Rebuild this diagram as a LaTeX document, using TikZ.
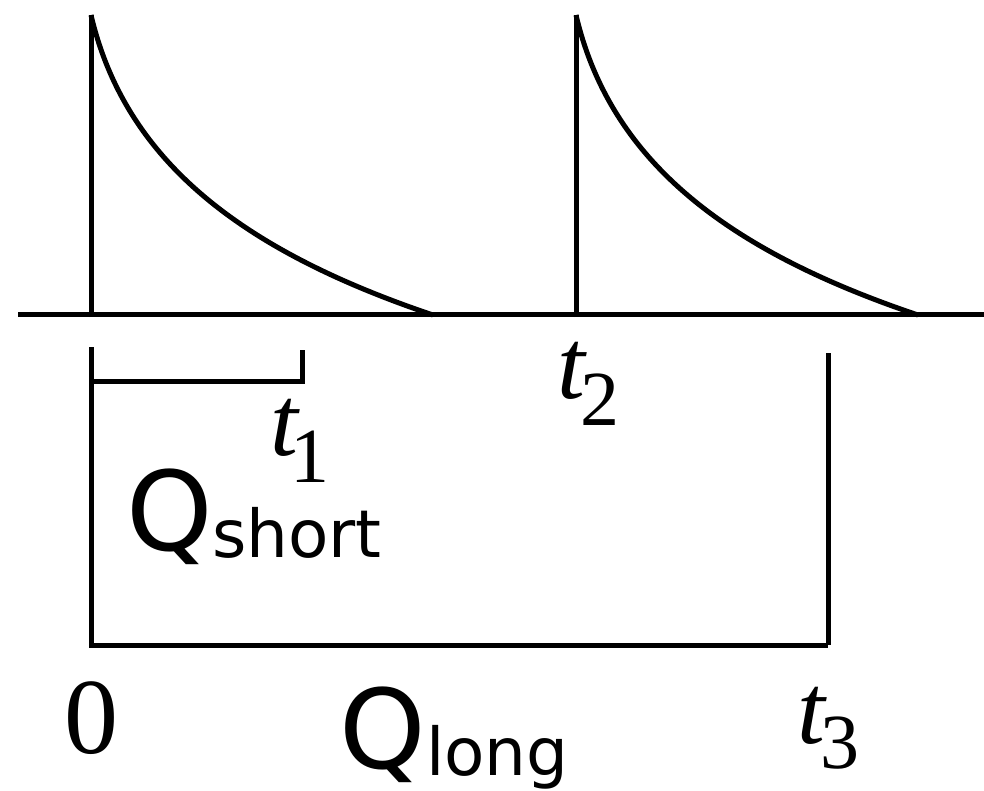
\documentclass[tikz,border=0pt]{standalone}
\usepackage{fontspec}
\newfontfamily\tms{Liberation Serif}
\newfontfamily\sans{DejaVu Sans}
\tikzset{
  ln/.style={line width=5pt, line cap=butt, line join=miter},
  lbl/.style={inner sep=0pt, outer sep=0pt, anchor=base west},
  mathbig/.style={lbl, font=\tms\itshape\fontsize{100}{100}\selectfont},
  mathsub/.style={lbl, font=\tms\fontsize{78}{78}\selectfont},
  qbig/.style={lbl, font=\sans\fontsize{110}{110}\selectfont},
  qsub/.style={lbl, font=\sans\fontsize{66}{66}\selectfont}
}
\begin{document}
\begin{tikzpicture}[x=1pt,y=-1pt]
\useasboundingbox (0,0) rectangle (984,790);
% axis
\coordinate (axL) at (18,314);
\coordinate (axR) at (984,314);
\draw[ln] (axL) -- (axR);
% pulse 1
\coordinate (p1top) at (91,15);
\coordinate (p1bot) at (91,317);
\coordinate (p1end) at (433,315);
\draw[ln] (p1bot) -- (p1top);
\draw[ln] (p1top) .. controls (125,160) and (240,250) .. (p1end);
% pulse 2
\coordinate (p2top) at (576,15);
\coordinate (p2bot) at (576,317);
\coordinate (p2end) at (918,315);
\draw[ln] (p2bot) -- (p2top);
\draw[ln] (p2top) .. controls (610,160) and (725,250) .. (p2end);
% short bracket
\coordinate (sA) at (91,347);
\coordinate (sB) at (91,381);
\coordinate (sC) at (302,381);
\coordinate (sD) at (302,350);
\draw[ln] (sB) -- (sC) -- (sD);
% long bracket
\coordinate (lB) at (91,645);
\coordinate (lC) at (828,645);
\coordinate (lD) at (828,353);
\draw[ln] (sA) -- (lB) -- (lC);
\draw[ln] (lC) -- (lD);
% labels
\node[mathbig] (t1) at (270,455) {t};
\node[mathsub] (t1s) at (290,482) {1};
\node[mathbig] (t2) at (557,398) {t};
\node[mathsub] (t2s) at (580,425) {2};
\node[mathbig] (t3) at (797,743) {t};
\node[mathsub] (t3s) at (820,768) {3};
\node[lbl, font=\tms\fontsize{108}{108}\selectfont] (zero) at (64,753) {0};
\node[qbig] (qs) at (126,550) {Q};
\node[qsub] (qss) at (212,557) {short};
\node[qbig] (ql) at (339,768) {Q};
\node[qsub] (qll) at (426,775) {long};
\end{tikzpicture}
\end{document}
